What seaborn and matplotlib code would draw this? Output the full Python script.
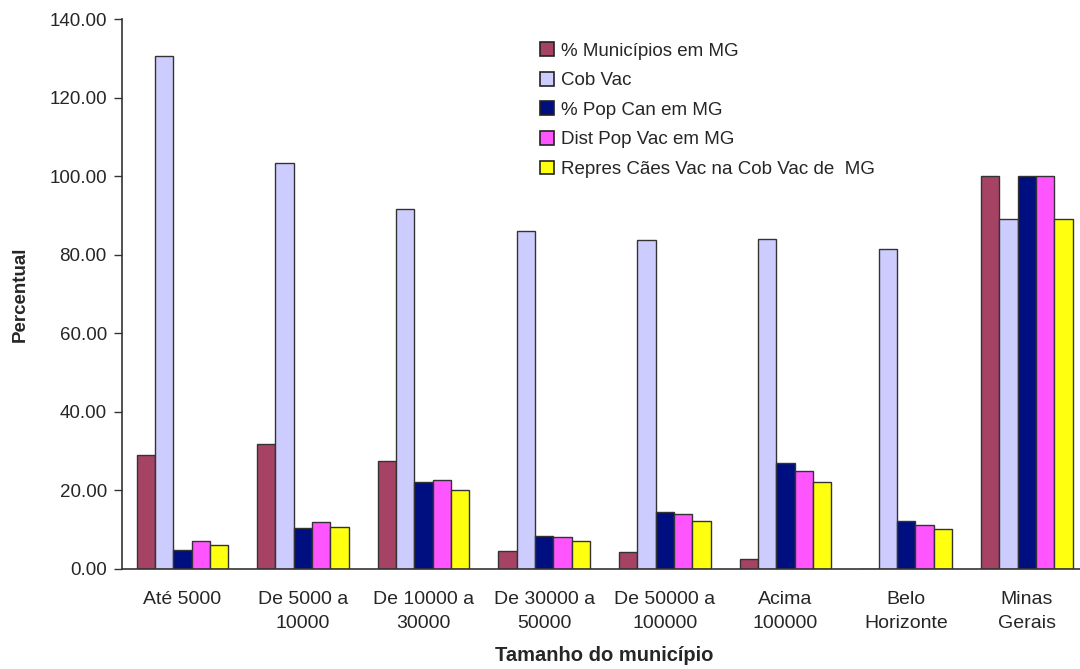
import numpy as np
import pandas as pd
import seaborn as sns
import matplotlib.pyplot as plt
from matplotlib.patches import Patch
from matplotlib.ticker import FormatStrFormatter, FixedLocator

# dados
categorias = ["Até 5000", "De 5000 a\n10000", "De 10000 a\n30000", "De 30000 a\n50000",
              "De 50000 a\n100000", "Acima\n100000", "Belo\nHorizonte", "Minas\nGerais"]
series = ["% Municípios em MG", "Cob Vac", "% Pop Can em MG",
          "Dist Pop Vac em MG", "Repres Cães Vac na Cob Vac de  MG"]
pct_municipios = [29.0, 31.8, 27.6, 4.6, 4.2, 2.5, 0.0, 100.0]
cob_vac = [130.6, 103.3, 91.6, 86.0, 83.8, 84.1, 81.5, 89.2]
pct_pop_can = [4.8, 10.4, 22.1, 8.4, 14.6, 27.0, 12.3, 100.0]
dist_pop_vac = [7.1, 12.0, 22.7, 8.1, 13.9, 25.0, 11.3, 100.0]
repres_caes = [6.1, 10.8, 20.1, 7.1, 12.3, 22.1, 10.1, 89.2]
cores = ["#A64364", "#CCCCFF", "#000F80", "#FF55FF", "#FFFF10"]

valores = [pct_municipios, cob_vac, pct_pop_can, dist_pop_vac, repres_caes]
df = pd.DataFrame([
    {"cat": c, "serie": s, "valor": v[i]}
    for s, v in zip(series, valores)
    for i, c in enumerate(categorias)
])

sns.set_style("white")
plt.rcParams["font.family"] = ["Liberation Sans", "DejaVu Sans"]

fig = plt.figure(figsize=(10.8, 6.69), dpi=100)
ax = fig.add_axes([0.113, 0.1495, 0.8935, 0.822])

sns.barplot(data=df, x="cat", y="valor", hue="serie", palette=cores,
            width=0.76, gap=0, edgecolor="#333333", linewidth=1.0,
            legend=False, ax=ax, saturation=1)

ax.set_ylim(0, 140)
ax.set_xlim(-0.5, len(categorias) - 0.5)
ax.yaxis.set_major_locator(FixedLocator(np.arange(0, 141, 20)))
ax.yaxis.set_major_formatter(FormatStrFormatter("%.2f"))
ax.set_xticks(range(len(categorias)))
ax.set_xticklabels(categorias, fontsize=14, linespacing=1.55)
ax.set_xticks(np.arange(-0.5, len(categorias), 1), minor=True)
ax.tick_params(axis="x", which="major", length=0, pad=16)
ax.tick_params(axis="x", which="minor", length=6, width=1, color="#333333", direction="out")
ax.tick_params(axis="y", length=6, width=1, color="#333333", direction="out", labelsize=13.5, pad=5)
ax.tick_params(bottom=True, left=True)

for s in ["top", "right"]:
    ax.spines[s].set_visible(False)
for s in ["left", "bottom"]:
    ax.spines[s].set_color("#333333")
    ax.spines[s].set_linewidth(1.2)

ax.set_xlabel("Tamanho do município", fontsize=14.5, fontweight="bold", labelpad=10)
ax.set_ylabel("Percentual", fontsize=13.5, fontweight="bold", labelpad=15)

handles = [Patch(facecolor=c, edgecolor="#222222", linewidth=1.2) for c in cores]
fig.legend(handles, series, loc="upper left", bbox_to_anchor=(0.484, 0.962),
           frameon=False, fontsize=13.5, handlelength=0.75, handleheight=0.75,
           handletextpad=0.4, labelspacing=0.65)

fig.savefig("out.png", dpi=100)
